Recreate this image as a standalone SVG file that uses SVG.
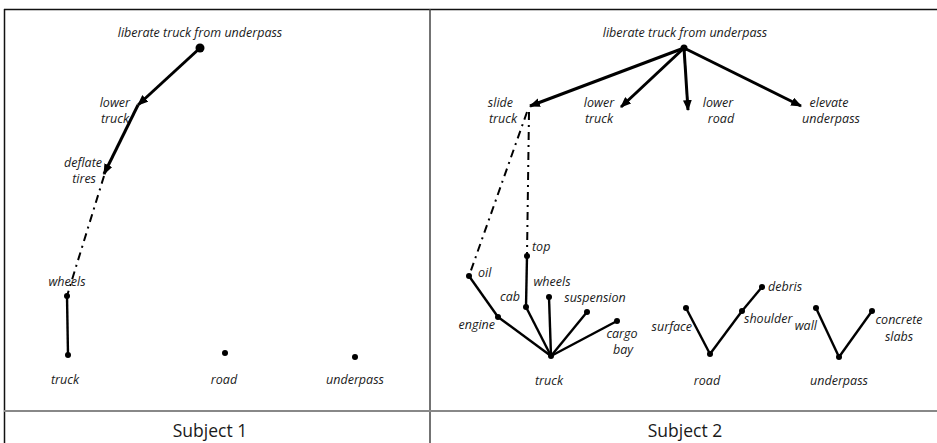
<svg xmlns="http://www.w3.org/2000/svg" width="937" height="443" viewBox="0 0 937 443">
  <defs>
    <marker id="arrow" viewBox="0 0 10 8" refX="9" refY="4" markerWidth="11" markerHeight="9" markerUnits="userSpaceOnUse" orient="auto">
      <path d="M0,0 L10,4 L0,8 z" fill="#000"/>
    </marker>
    <style>
      .lbl { font-family: "Open Sans", Lato, "Liberation Sans", sans-serif; font-style: italic; font-size: 12.5px; fill: #1a1a1a; }
      .cap { font-family: "Open Sans", Lato, "Liberation Sans", sans-serif; font-size: 17.5px; fill: #1a1a1a; }
      .arr { stroke: #000; stroke-width: 3; fill: none; marker-end: url(#arrow); }
      .sol { stroke: #000; stroke-width: 2.4; fill: none; }
      .dd { stroke: #000; stroke-width: 2; fill: none; stroke-dasharray: 8 5 2 5; }
      .dot { fill: #000; }
    </style>
  </defs>

  <rect width="937" height="443" fill="#fff"/>

  <!-- frame and panel captions -->
  <g id="frame">
    <line x1="4" y1="9.5" x2="937" y2="9.5" stroke="#111" stroke-width="1.5"/>
    <line x1="4.5" y1="9" x2="4.5" y2="443" stroke="#111" stroke-width="1.5"/>
    <line x1="430" y1="9" x2="430" y2="443" stroke="#444" stroke-width="1.5"/>
    <line x1="4" y1="411" x2="937" y2="411" stroke="#888" stroke-width="2"/>
    <text class="cap" x="210" y="437" text-anchor="middle">Subject 1</text>
    <text class="cap" x="685" y="437" text-anchor="middle">Subject 2</text>
  </g>

  <!-- connectors -->
  <g id="connectors">
    <!-- subject 1 -->
    <line class="arr" x1="200" y1="48" x2="138" y2="105"/>
    <line class="arr" x1="138" y1="105" x2="104" y2="174"/>
    <line class="dd" x1="104" y1="176" x2="67" y2="296"/>
    <line class="sol" x1="67" y1="296" x2="68" y2="355"/>
    <!-- subject 2: goal to plans -->
    <line class="arr" x1="684" y1="48" x2="530" y2="106"/>
    <line class="arr" x1="684" y1="48" x2="621" y2="107"/>
    <line class="arr" x1="684" y1="48" x2="688" y2="110"/>
    <line class="arr" x1="684" y1="48" x2="801" y2="106"/>
    <!-- slide truck to parts -->
    <line class="dd" x1="527" y1="112" x2="469" y2="276"/>
    <line class="dd" x1="529" y1="112" x2="527" y2="256"/>
    <!-- truck parts -->
    <line class="sol" x1="469" y1="276" x2="498" y2="317"/>
    <line class="sol" x1="498" y1="317" x2="551" y2="356"/>
    <line class="sol" x1="527" y1="256" x2="526" y2="307"/>
    <line class="sol" x1="526" y1="307" x2="551" y2="356"/>
    <line class="sol" x1="549" y1="297" x2="551" y2="356"/>
    <line class="sol" x1="587" y1="312" x2="551" y2="356"/>
    <line class="sol" x1="617" y1="321" x2="551" y2="356"/>
    <!-- road parts -->
    <line class="sol" x1="686" y1="308" x2="710" y2="354"/>
    <line class="sol" x1="710" y1="354" x2="742" y2="311"/>
    <line class="sol" x1="742" y1="311" x2="762" y2="287"/>
    <!-- underpass parts -->
    <line class="sol" x1="816" y1="308" x2="839" y2="357"/>
    <line class="sol" x1="839" y1="357" x2="872" y2="311"/>
  </g>

  <!-- subject 1 nodes -->
  <g id="s1-goal">
    <circle class="dot" cx="200" cy="48" r="4.5"/>
    <text class="lbl" x="200" y="37" text-anchor="middle">liberate truck from underpass</text>
  </g>
  <g id="s1-lower-truck">
    <text class="lbl" x="130" y="107" text-anchor="end">lower</text>
    <text class="lbl" x="129" y="123" text-anchor="end">truck</text>
  </g>
  <g id="s1-deflate-tires">
    <text class="lbl" x="102" y="167" text-anchor="end">deflate</text>
    <text class="lbl" x="96" y="183" text-anchor="end">tires</text>
  </g>
  <g id="s1-wheels">
    <circle class="dot" cx="67" cy="296" r="3"/>
    <text class="lbl" x="67" y="286" text-anchor="middle">wheels</text>
  </g>
  <g id="s1-truck">
    <circle class="dot" cx="68" cy="355" r="3"/>
    <text class="lbl" x="65" y="384" text-anchor="middle">truck</text>
  </g>
  <g id="s1-road">
    <circle class="dot" cx="225" cy="353" r="3"/>
    <text class="lbl" x="224" y="384" text-anchor="middle">road</text>
  </g>
  <g id="s1-underpass">
    <circle class="dot" cx="355" cy="357" r="3"/>
    <text class="lbl" x="355" y="384" text-anchor="middle">underpass</text>
  </g>

  <!-- subject 2 nodes -->
  <g id="s2-goal">
    <circle class="dot" cx="684" cy="48" r="3.5"/>
    <text class="lbl" x="685" y="37" text-anchor="middle">liberate truck from underpass</text>
  </g>
  <g id="s2-slide-truck">
    <text class="lbl" x="513" y="107" text-anchor="end">slide</text>
    <text class="lbl" x="517" y="123" text-anchor="end">truck</text>
  </g>
  <g id="s2-lower-truck">
    <text class="lbl" x="599" y="107" text-anchor="middle">lower</text>
    <text class="lbl" x="599" y="123" text-anchor="middle">truck</text>
  </g>
  <g id="s2-lower-road">
    <text class="lbl" x="718" y="107" text-anchor="middle">lower</text>
    <text class="lbl" x="721" y="123" text-anchor="middle">road</text>
  </g>
  <g id="s2-elevate-underpass">
    <text class="lbl" x="829" y="107" text-anchor="middle">elevate</text>
    <text class="lbl" x="831" y="123" text-anchor="middle">underpass</text>
  </g>
  <g id="s2-top">
    <circle class="dot" cx="527" cy="256" r="3"/>
    <text class="lbl" x="532" y="251">top</text>
  </g>
  <g id="s2-oil">
    <circle class="dot" cx="469" cy="276" r="3"/>
    <text class="lbl" x="478" y="277">oil</text>
  </g>
  <g id="s2-cab">
    <circle class="dot" cx="526" cy="307" r="3"/>
    <text class="lbl" x="520" y="301" text-anchor="end">cab</text>
  </g>
  <g id="s2-engine">
    <circle class="dot" cx="498" cy="317" r="3"/>
    <text class="lbl" x="495" y="329" text-anchor="end">engine</text>
  </g>
  <g id="s2-wheels">
    <circle class="dot" cx="549" cy="297" r="3"/>
    <text class="lbl" x="552" y="286" text-anchor="middle">wheels</text>
  </g>
  <g id="s2-suspension">
    <circle class="dot" cx="587" cy="312" r="3"/>
    <text class="lbl" x="595" y="302" text-anchor="middle">suspension</text>
  </g>
  <g id="s2-cargo-bay">
    <circle class="dot" cx="617" cy="321" r="3"/>
    <text class="lbl" x="622" y="338" text-anchor="middle">cargo</text>
    <text class="lbl" x="623" y="354" text-anchor="middle">bay</text>
  </g>
  <g id="s2-truck">
    <circle class="dot" cx="551" cy="356" r="3"/>
    <text class="lbl" x="549" y="385" text-anchor="middle">truck</text>
  </g>
  <g id="s2-surface">
    <circle class="dot" cx="686" cy="308" r="3"/>
    <text class="lbl" x="692" y="331" text-anchor="end">surface</text>
  </g>
  <g id="s2-shoulder">
    <circle class="dot" cx="742" cy="311" r="3"/>
    <text class="lbl" x="744" y="323">shoulder</text>
  </g>
  <g id="s2-debris">
    <circle class="dot" cx="762" cy="287" r="3"/>
    <text class="lbl" x="768" y="291">debris</text>
  </g>
  <g id="s2-road">
    <circle class="dot" cx="710" cy="354" r="3"/>
    <text class="lbl" x="707" y="385" text-anchor="middle">road</text>
  </g>
  <g id="s2-wall">
    <circle class="dot" cx="816" cy="308" r="3"/>
    <text class="lbl" x="817" y="330" text-anchor="end">wall</text>
  </g>
  <g id="s2-concrete-slabs">
    <circle class="dot" cx="872" cy="311" r="3"/>
    <text class="lbl" x="899" y="324" text-anchor="middle">concrete</text>
    <text class="lbl" x="899" y="341" text-anchor="middle">slabs</text>
  </g>
  <g id="s2-underpass">
    <circle class="dot" cx="839" cy="357" r="3"/>
    <text class="lbl" x="839" y="385" text-anchor="middle">underpass</text>
  </g>
</svg>
